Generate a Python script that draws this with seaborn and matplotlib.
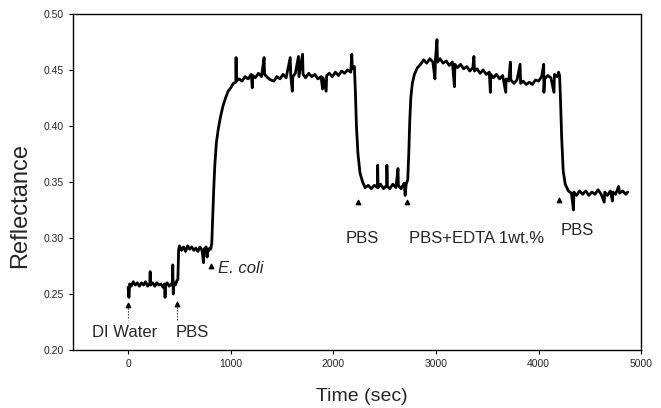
import matplotlib
matplotlib.use("Agg")
import matplotlib.pyplot as plt
import pandas as pd
import seaborn as sns

# values, segment by segment
di_water_t = [0, 8, 15, 30, 50, 70, 90, 110, 130, 150, 170, 190, 210, 215, 220, 240, 260, 280, 300,
              320, 340, 355, 360, 365, 380, 400, 420, 430, 435, 440, 445, 460, 475]
di_water_r = [0.256, 0.247, 0.259, 0.257, 0.261, 0.258, 0.260, 0.257, 0.260, 0.258, 0.261, 0.257,
              0.259, 0.270, 0.258, 0.260, 0.257, 0.260, 0.258, 0.259, 0.256, 0.259, 0.247, 0.258,
              0.260, 0.257, 0.259, 0.258, 0.276, 0.250, 0.260, 0.258, 0.262]

pbs1_t = [485, 492, 500, 520, 540, 560, 580, 600, 620, 640, 660, 680, 700, 720, 735, 740, 760,
          770, 775, 780, 795, 805]
pbs1_r = [0.263, 0.289, 0.293, 0.289, 0.292, 0.288, 0.293, 0.290, 0.292, 0.289, 0.291, 0.288,
          0.292, 0.289, 0.278, 0.290, 0.292, 0.283, 0.290, 0.288, 0.291, 0.290]

ecoli_t = [815, 825, 835, 845, 860, 880, 900, 925, 950, 975, 1000, 1025, 1050, 1052, 1055, 1080,
           1110, 1140, 1170, 1200, 1210, 1215, 1240, 1270, 1300, 1325, 1330, 1360, 1390, 1420,
           1450, 1480, 1510, 1540, 1580, 1585, 1600, 1605, 1630, 1660, 1665, 1700, 1705, 1730,
           1760, 1790, 1820, 1850, 1880, 1895, 1900, 1930, 1935, 1960, 1990, 2020, 2050, 2080,
           2110, 2140, 2170, 2180, 2185, 2205]
ecoli_r = [0.295, 0.320, 0.345, 0.365, 0.385, 0.398, 0.408, 0.418, 0.425, 0.431, 0.434, 0.438,
           0.439, 0.461, 0.440, 0.442, 0.440, 0.444, 0.442, 0.446, 0.434, 0.445, 0.443, 0.447,
           0.444, 0.461, 0.446, 0.443, 0.441, 0.440, 0.444, 0.442, 0.446, 0.443, 0.461, 0.445,
           0.431, 0.444, 0.447, 0.462, 0.444, 0.464, 0.446, 0.443, 0.447, 0.444, 0.446, 0.442,
           0.444, 0.433, 0.443, 0.431, 0.445, 0.447, 0.444, 0.448, 0.445, 0.449, 0.447, 0.450,
           0.448, 0.464, 0.451, 0.453]

pbs2_t = [2215, 2225, 2240, 2260, 2285, 2310, 2340, 2370, 2400, 2430, 2432, 2436, 2460, 2490,
          2520, 2522, 2526, 2550, 2580, 2610, 2630, 2634, 2660, 2690, 2700, 2710, 2725]
pbs2_r = [0.430, 0.400, 0.375, 0.358, 0.350, 0.345, 0.347, 0.344, 0.347, 0.345, 0.365, 0.345,
          0.348, 0.344, 0.347, 0.365, 0.346, 0.344, 0.348, 0.345, 0.362, 0.347, 0.344, 0.349,
          0.338, 0.348, 0.352]

edta_t = [2735, 2745, 2755, 2770, 2790, 2820, 2850, 2880, 2910, 2940, 2970, 2990, 2995, 3010,
          3015, 3040, 3070, 3100, 3130, 3160, 3180, 3185, 3210, 3240, 3270, 3300, 3330, 3360,
          3370, 3375, 3400, 3430, 3460, 3490, 3520, 3530, 3535, 3560, 3590, 3620, 3650, 3680,
          3685, 3710, 3725, 3730, 3760, 3790, 3820, 3825, 3850, 3880, 3910, 3940, 3970, 4000,
          4030, 4050, 4052, 4060, 4090, 4120, 4150, 4155, 4180, 4195, 4205]
edta_r = [0.375, 0.405, 0.425, 0.438, 0.446, 0.452, 0.455, 0.459, 0.456, 0.460, 0.457, 0.442,
          0.459, 0.477, 0.457, 0.460, 0.456, 0.458, 0.454, 0.457, 0.435, 0.455, 0.452, 0.455,
          0.451, 0.453, 0.449, 0.452, 0.462, 0.449, 0.451, 0.447, 0.450, 0.446, 0.448, 0.430,
          0.446, 0.443, 0.446, 0.442, 0.445, 0.430, 0.442, 0.440, 0.457, 0.441, 0.438, 0.441,
          0.455, 0.438, 0.440, 0.437, 0.439, 0.437, 0.441, 0.440, 0.444, 0.455, 0.430, 0.442,
          0.445, 0.443, 0.430, 0.446, 0.444, 0.448, 0.445]

pbs3_t = [4215, 4225, 4240, 4260, 4290, 4320, 4340, 4345, 4370, 4400, 4430, 4460, 4490, 4520,
          4550, 4580, 4610, 4640, 4645, 4670, 4700, 4720, 4725, 4750, 4780, 4790, 4820, 4850, 4870]
pbs3_r = [0.420, 0.390, 0.360, 0.348, 0.342, 0.340, 0.325, 0.341, 0.338, 0.342, 0.339, 0.342,
          0.338, 0.341, 0.339, 0.343, 0.339, 0.332, 0.341, 0.338, 0.342, 0.333, 0.341, 0.339,
          0.346, 0.340, 0.342, 0.339, 0.341]

# injection markers
arrow_t = [0, 480, 810, 2240, 2720, 4200]
arrow_r = [0.240, 0.241, 0.275, 0.332, 0.332, 0.334]

labels = ["DI Water", "PBS", "E. coli", "PBS", "PBS+EDTA 1wt.%", "PBS"]
label_t = [-30, 625, 880, 2280, 3400, 4375]
label_r = [0.216, 0.216, 0.273, 0.300, 0.300, 0.307]

times = di_water_t + pbs1_t + ecoli_t + pbs2_t + edta_t + pbs3_t
refl = di_water_r + pbs1_r + ecoli_r + pbs2_r + edta_r + pbs3_r
df = pd.DataFrame({"Time": times, "Reflectance": refl})

sns.set_theme(style="ticks")
plt.rcParams["font.family"] = ["Liberation Sans", "DejaVu Sans"]

fig = plt.figure(figsize=(6.61, 4.08), dpi=100)
ax = fig.add_axes([0.110, 0.142, 0.860, 0.824])

sns.lineplot(data=df, x="Time", y="Reflectance", sort=False, estimator=None,
             color="black", linewidth=2.0, ax=ax)

ax.scatter(arrow_t, arrow_r, marker="^", s=10, color="black", zorder=3)
for t, r in zip(arrow_t[:2], arrow_r[:2]):
    ax.plot([t, t], [r, 0.227], color="black", linestyle=":", linewidth=0.8)

for txt, t, r in zip(labels, label_t, label_r):
    style = "italic" if txt == "E. coli" else "normal"
    ha = "left" if txt == "E. coli" else "center"
    ax.text(t, r, txt, fontsize=12, style=style, ha=ha, va="center")

ax.set_xlim(-540, 5000)
ax.set_ylim(0.20, 0.50)
ax.set_xticks([0, 1000, 2000, 3000, 4000, 5000])
ax.set_yticks([0.20, 0.25, 0.30, 0.35, 0.40, 0.45, 0.50])
ax.set_yticklabels([f"{v:.2f}" for v in ax.get_yticks()])
ax.tick_params(labelsize=7.5, length=3, width=0.8, color="black")
ax.set_xlabel("Time (sec)", fontsize=14)
ax.set_ylabel("Reflectance", fontsize=17)
ax.xaxis.set_label_coords(0.509, -0.112)
ax.yaxis.set_label_coords(-0.074, 0.43)
for s in ax.spines.values():
    s.set_visible(True)
    s.set_color("black")
    s.set_linewidth(1.0)

fig.savefig("out.png", dpi=100)
